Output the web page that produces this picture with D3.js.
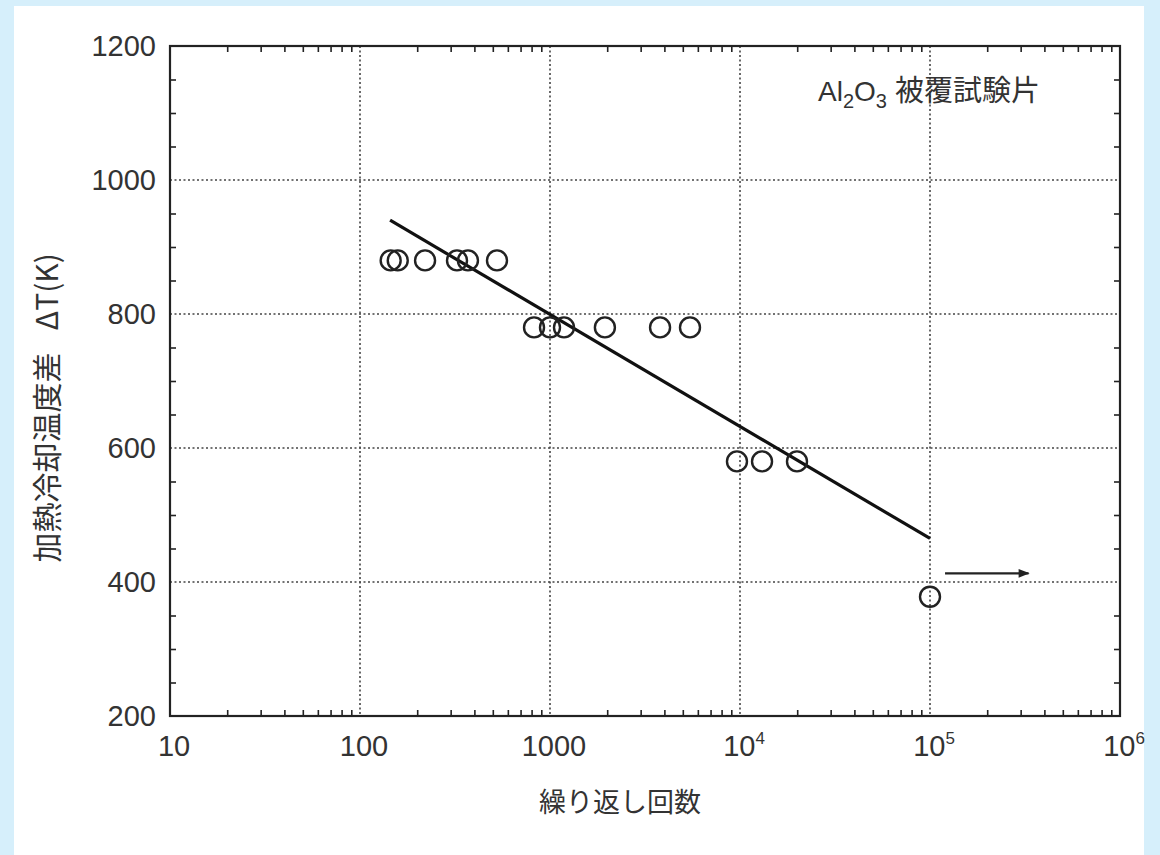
<!DOCTYPE html>
<html>
<head>
<meta charset="utf-8">
<script src="https://cdn.jsdelivr.net/npm/d3@7"></script>
<style>
  body { margin: 0; background: #d6effb; }
  svg { display: block; }
  .num { font-family: "Liberation Sans", Arial, sans-serif; fill: #333; }
  .jp { font-family: "Noto Sans CJK JP", sans-serif; fill: #333; }
</style>
</head>
<body>
<div id="chart"></div>
<script>
// cycles to failure (log axis) and temperature difference ΔT (K)
const cycles880 = [145, 158, 220, 324, 370, 526];
const cycles780 = [824, 1000, 1185, 1945, 3795, 5455];
const cycles580 = [9640, 13060, 19950];
const runout = [{ n: 100000, dt: 378 }];

const levels = [880, 780, 580];

// fitted line and run-out arrow (data coords)
const fitLine = [{ n: 144, dt: 940 }, { n: 100000, dt: 465 }];
const arrowLine = [{ n: 120000, dt: 413 }, { n: 330000, dt: 413 }];

const xTicks = [10, 100, 1000, 1e4, 1e5, 1e6];
const xTickLabels = [["10", ""], ["100", ""], ["1000", ""], ["10", "4"], ["10", "5"], ["10", "6"]];
const yTicks = [200, 400, 600, 800, 1000, 1200];

const points = [
  ...cycles880.map(n => ({ n, dt: levels[0] })),
  ...cycles780.map(n => ({ n, dt: levels[1] })),
  ...cycles580.map(n => ({ n, dt: levels[2] })),
  ...runout
];

const W = 1160, H = 855;
const margin = { top: 46, right: 40, bottom: 139, left: 170 },
  width = W - margin.left - margin.right,
  height = H - margin.top - margin.bottom;

const svg = d3.select("#chart")
  .append("svg")
  .attr("width", W)
  .attr("height", H);

// white panel on the light blue page
svg.append("rect")
  .attr("x", 14).attr("y", 6)
  .attr("width", 1130).attr("height", H - 6)
  .attr("fill", "#fff");

const g = svg.append("g")
  .attr("transform", `translate(${margin.left},${margin.top})`);

const x = d3.scaleLog()
  .domain([10, 1e6])
  .range([0, width]);

const y = d3.scaleLinear()
  .domain([200, 1200])
  .range([height, 0]);

// minor ticks
const xMinor = [];
for (let d = 10; d < 1e6; d *= 10)
  for (let k = 2; k <= 9; k++) xMinor.push(d * k);
const yMinor = d3.range(250, 1200, 50).filter(v => v % 200 != 0);

// dotted grid
g.append("g")
  .selectAll("line")
  .data(xTicks.slice(1, -1))
  .enter()
  .append("line")
  .attr("x1", d => x(d)).attr("x2", d => x(d))
  .attr("y1", 0).attr("y2", height)
  .attr("stroke", "#444")
  .attr("stroke-width", 1.6)
  .attr("stroke-dasharray", "2,2.5");

g.append("g")
  .selectAll("line")
  .data(yTicks.slice(1, -1))
  .enter()
  .append("line")
  .attr("x1", 0).attr("x2", width)
  .attr("y1", d => y(d)).attr("y2", d => y(d))
  .attr("stroke", "#444")
  .attr("stroke-width", 1.6)
  .attr("stroke-dasharray", "2,2.5");

// axes with inward ticks
const styleAxis = sel => {
  sel.select(".domain").remove();
  sel.selectAll("line").attr("stroke", "#222").attr("stroke-width", 1.6);
  sel.selectAll("text").remove();
};

g.append("g")
  .attr("transform", `translate(0,${height})`)
  .call(d3.axisBottom(x).tickValues(xMinor).tickSize(-6))
  .call(styleAxis);
g.append("g")
  .call(d3.axisTop(x).tickValues(xMinor).tickSize(-6))
  .call(styleAxis);
g.append("g")
  .call(d3.axisLeft(y).tickValues(yMinor).tickSize(-6))
  .call(styleAxis);
g.append("g")
  .attr("transform", `translate(${width},0)`)
  .call(d3.axisRight(y).tickValues(yMinor).tickSize(-6))
  .call(styleAxis);

// frame
g.append("rect")
  .attr("width", width)
  .attr("height", height)
  .attr("fill", "none")
  .attr("stroke", "#222")
  .attr("stroke-width", 2.2);

// tick labels
g.selectAll(".ylab")
  .data(yTicks)
  .enter()
  .append("text")
  .attr("class", "num ylab")
  .attr("x", -14)
  .attr("y", d => y(d))
  .attr("dy", "0.36em")
  .attr("text-anchor", "end")
  .attr("font-size", 29)
  .text(d => d);

const xl = g.selectAll(".xlab")
  .data(xTicks)
  .enter()
  .append("text")
  .attr("class", "num xlab")
  .attr("x", d => x(d) + 4)
  .attr("y", height + 40)
  .attr("text-anchor", "middle")
  .attr("font-size", 29);
xl.append("tspan").text((d, i) => xTickLabels[i][0]);
xl.append("tspan")
  .attr("dy", -12)
  .attr("font-size", 17)
  .text((d, i) => xTickLabels[i][1]);

// fitted line
g.append("path")
  .datum(fitLine)
  .attr("fill", "none")
  .attr("stroke", "#111")
  .attr("stroke-width", 3.2)
  .attr("d", d3.line().x(d => x(d.n)).y(d => y(d.dt)));

// run-out arrow
svg.append("defs").append("marker")
  .attr("id", "arrow")
  .attr("viewBox", "0 0 10 10")
  .attr("refX", 9).attr("refY", 5)
  .attr("markerWidth", 6).attr("markerHeight", 5)
  .attr("markerUnits", "strokeWidth")
  .attr("orient", "auto")
  .append("path")
  .attr("d", "M0,1 L10,5 L0,9 Z")
  .attr("fill", "#222");

g.append("path")
  .datum(arrowLine)
  .attr("fill", "none")
  .attr("stroke", "#222")
  .attr("stroke-width", 2.2)
  .attr("marker-end", "url(#arrow)")
  .attr("d", d3.line().x(d => x(d.n)).y(d => y(d.dt)));

// data points
g.selectAll(".pt")
  .data(points)
  .enter()
  .append("circle")
  .attr("class", "pt")
  .attr("cx", d => x(d.n))
  .attr("cy", d => y(d.dt))
  .attr("r", 10)
  .attr("fill", "none")
  .attr("stroke", "#222")
  .attr("stroke-width", 2.4);

// annotation
const ann = g.append("text")
  .attr("class", "jp")
  .attr("x", 648)
  .attr("y", 55)
  .attr("font-size", 29);
ann.append("tspan").attr("class", "num").attr("font-size", 28).text("Al");
ann.append("tspan").attr("class", "num").attr("font-size", 20).attr("dy", 7).text("2");
ann.append("tspan").attr("class", "num").attr("font-size", 28).attr("dy", -7).text("O");
ann.append("tspan").attr("class", "num").attr("font-size", 20).attr("dy", 7).text("3");
ann.append("tspan").attr("dy", -7).attr("dx", 8).text("被覆試験片");

// axis titles
g.append("text")
  .attr("class", "jp")
  .attr("x", width / 2 - 25)
  .attr("y", height + 96)
  .attr("text-anchor", "middle")
  .attr("font-size", 27)
  .text("繰り返し回数");

const yTitle = g.append("text")
  .attr("class", "jp")
  .attr("transform", `translate(-112,${y(660)}) rotate(-90)`)
  .attr("text-anchor", "middle")
  .attr("font-size", 30);
yTitle.append("tspan").text("加熱冷却温度差");
yTitle.append("tspan").attr("dx", 22).text("ΔT(K)");
</script>
</body>
</html>
